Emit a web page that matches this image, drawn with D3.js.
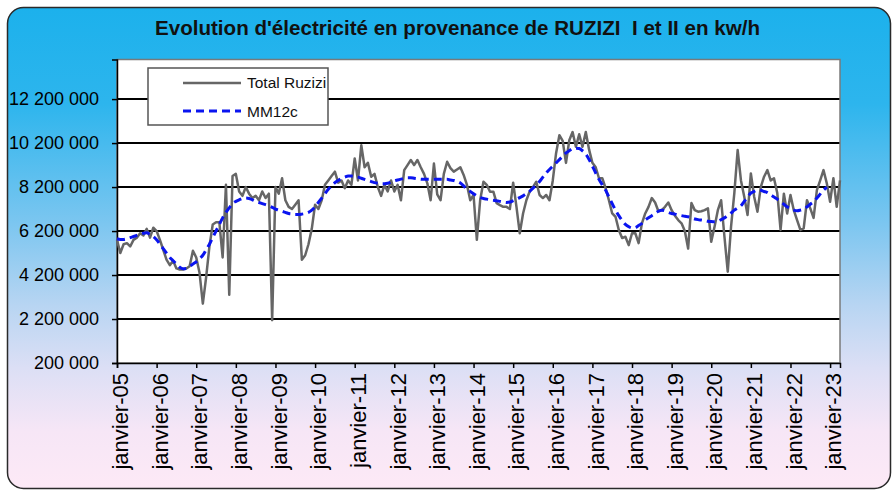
<!DOCTYPE html>
<html><head><meta charset="utf-8">
<script src="https://cdn.jsdelivr.net/npm/d3@7"></script>
<style>html,body{margin:0;padding:0;background:#fff;}svg{display:block;}</style>
</head><body>
<script>
// ---- data (kWh per month, janvier-05 .. avril-23) ----
const startYear = 2005;
const totalRuzizi = [
  5800000,5200000,5600000,5650000,5500000,5800000,5900000,6100000,6000000,6300000,5900000,6350000,
  6200000,5800000,5350000,4900000,4650000,4850000,4500000,4450000,4450000,4500000,4600000,5300000,
  5000000,4300000,2900000,4100000,5500000,6500000,6600000,6600000,5000000,8300000,3300000,8700000,
  8800000,8000000,7800000,8200000,7900000,7700000,7800000,7600000,8000000,7700000,7900000,2150000,
  8200000,7900000,8600000,7600000,7300000,7200000,7400000,7600000,4900000,5100000,5600000,6300000,
  7400000,7200000,7600000,8300000,8500000,8700000,8900000,8400000,8500000,8150000,8500000,8300000,
  9500000,8500000,10100000,9100000,9300000,8670000,8800000,8200000,7800000,8300000,8000000,8500000,
  8000000,8300000,7600000,8970000,9200000,9430000,9200000,9430000,9100000,8800000,8370000,7600000,
  9270000,7870000,7600000,8800000,9350000,9060000,8900000,9000000,9100000,8750000,8300000,7600000,
  7840000,5800000,7600000,8440000,8300000,7990000,7990000,7470000,7380000,7300000,7300000,7200000,
  8400000,7300000,6100000,7000000,7600000,8000000,8200000,8440000,7840000,7700000,7840000,7600000,
  8500000,9740000,10560000,10300000,9300000,10330000,10700000,10030000,10600000,10030000,10700000,9900000,
  9300000,9100000,8600000,8600000,8150000,7600000,7000000,6850000,6250000,5880000,5940000,5560000,
  6100000,6100000,5650000,6550000,7000000,7300000,7700000,7500000,7100000,7150000,7300000,7500000,
  7150000,6900000,6700000,6550000,6200000,5400000,7470000,7150000,7080000,7100000,7150000,7230000,
  5710000,6400000,7150000,7600000,5940000,4350000,6400000,7930000,9880000,8500000,7760000,6930000,
  8820000,7760000,7080000,8200000,8670000,8970000,8500000,8600000,7930000,6250000,7900000,7000000,
  7840000,7150000,6700000,6250000,6320000,7600000,7230000,6800000,8060000,8500000,8970000,8370000,
  7530000,8600000,7300000,8500000
];
const mm12c = [
  5850000,5820000,5820000,5850000,5900000,5950000,6000000,6050000,6100000,6120000,6050000,5950000,
  5800000,5600000,5400000,5200000,5000000,4850000,4700000,4550000,4480000,4500000,4600000,4700000,
  4800000,4950000,5100000,5350000,5600000,5900000,6200000,6500000,6800000,7050000,7250000,7450000,
  7550000,7620000,7680000,7700000,7680000,7620000,7550000,7500000,7450000,7400000,7350000,7280000,
  7200000,7150000,7100000,7050000,7000000,6980000,6950000,6950000,6970000,7000000,7050000,7150000,
  7300000,7500000,7700000,7900000,8100000,8250000,8400000,8500000,8600000,8650000,8700000,8700000,
  8680000,8650000,8600000,8550000,8500000,8450000,8400000,8370000,8350000,8350000,8370000,8420000,
  8480000,8520000,8560000,8600000,8620000,8620000,8600000,8580000,8560000,8550000,8550000,8550000,
  8550000,8550000,8550000,8550000,8550000,8520000,8500000,8450000,8380000,8250000,8100000,8000000,
  7900000,7800000,7720000,7680000,7650000,7620000,7600000,7580000,7550000,7520000,7500000,7520000,
  7580000,7650000,7720000,7800000,7900000,8000000,8150000,8300000,8450000,8650000,8840000,9000000,
  9150000,9300000,9450000,9600000,9750000,9850000,9950000,9970000,9950000,9850000,9700000,9450000,
  9150000,8840000,8550000,8300000,8060000,7750000,7450000,7150000,6900000,6680000,6500000,6400000,
  6340000,6360000,6450000,6550000,6700000,6800000,6900000,7000000,7100000,7150000,7120000,7050000,
  7000000,6970000,6930000,6900000,6870000,6850000,6800000,6750000,6720000,6700000,6680000,6650000,
  6630000,6620000,6650000,6720000,6800000,6900000,7020000,7150000,7250000,7350000,7550000,7750000,
  7930000,8000000,8060000,8050000,8000000,7950000,7850000,7750000,7650000,7530000,7420000,7300000,
  7220000,7150000,7120000,7150000,7200000,7300000,7420000,7530000,7700000,7880000,8060000,8200000
];
const yTicks = [200000,2200000,4200000,6200000,8200000,10200000,12200000];
const xTickLabels = ["janvier-05","janvier-06","janvier-07","janvier-08","janvier-09","janvier-10",
  "janvier-11","janvier-12","janvier-13","janvier-14","janvier-15","janvier-16","janvier-17",
  "janvier-18","janvier-19","janvier-20","janvier-21","janvier-22","janvier-23"];
const seriesNames = ["Total Ruzizi","MM12c"];
const title = "Evolution d'électricité en provenance de RUZIZI  I et II en kw/h";

// ---- chart ----
const W = 892, H = 490;
const plot = {l:117, r:840, t:59.5, b:363};
const svg = d3.select("body").append("svg").attr("width",W).attr("height",H);
const defs = svg.append("defs");
const grad = defs.append("linearGradient").attr("id","bg").attr("x1",0).attr("y1",0).attr("x2",0).attr("y2",1);
[[0,"#1cb1ec"],[0.2,"#2db5ed"],[0.45,"#7cc6f0"],[0.62,"#b8d5f2"],[0.75,"#dcdff5"],[0.88,"#f6e6f6"],[1,"#fde9f6"]]
  .forEach(([o,c])=>grad.append("stop").attr("offset",o).attr("stop-color",c));

svg.append("rect").attr("x",7.5).attr("y",7.5).attr("width",883).attr("height",481).attr("rx",16)
  .attr("fill","url(#bg)").attr("stroke","#2a2a2a").attr("stroke-width",1.5);

svg.append("text").attr("x",155).attr("y",35)
  .attr("font-family","Liberation Sans, Arial, sans-serif").attr("font-weight","bold").attr("font-size",20)
  .attr("textLength",605).attr("lengthAdjust","spacingAndGlyphs")
  .style("white-space","pre")
  .attr("fill","#111").text(title);

const x = d3.scaleLinear().domain([0, totalRuzizi.length-1]).range([plot.l, plot.r]);
const y = d3.scaleLinear().domain([200000, 14000000]).range([plot.b, plot.t]);

svg.append("rect").attr("x",plot.l).attr("y",plot.t).attr("width",plot.r-plot.l).attr("height",plot.b-plot.t)
  .attr("fill","#fff");

// gridlines
svg.append("g").selectAll("line").data(yTicks.slice(1)).join("line")
  .attr("x1",plot.l).attr("x2",plot.r).attr("y1",d=>y(d)).attr("y2",d=>y(d))
  .attr("stroke","#000").attr("stroke-width",2);

// plot border
svg.append("rect").attr("x",plot.l).attr("y",plot.t).attr("width",plot.r-plot.l).attr("height",plot.b-plot.t)
  .attr("fill","none").attr("stroke","#7a7a7a").attr("stroke-width",1.5);

const fr = d3.formatLocale({decimal:",", thousands:"\u00a0", grouping:[3], currency:["",""]});
const fmt = fr.format(",d");

const yAxis = svg.append("g").attr("transform",`translate(${plot.l},0)`)
  .call(d3.axisLeft(y).tickValues(yTicks).tickSize(5).tickPadding(13).tickFormat(fmt));
yAxis.select(".domain").attr("stroke","#000").attr("stroke-width",1.5);
yAxis.selectAll(".tick line").attr("stroke","#000").attr("stroke-width",1.5);
yAxis.selectAll("text").attr("font-family","Liberation Sans, Arial, sans-serif").attr("font-size",18).attr("fill","#000");

const xTickIdx = xTickLabels.map((d,i)=>i*12);
const xAxis = svg.append("g").attr("transform",`translate(0,${plot.b})`)
  .call(d3.axisBottom(x).tickValues(xTickIdx).tickSize(5).tickFormat((d,i)=>xTickLabels[i]));
xAxis.select(".domain").attr("stroke","#000").attr("stroke-width",1.5);
xAxis.selectAll(".tick line").attr("stroke","#000").attr("stroke-width",1.5);
xAxis.selectAll("text")
  .attr("font-family","Liberation Sans, Arial, sans-serif").attr("font-size",22).attr("fill","#000")
  .attr("text-anchor","end").attr("transform","rotate(-90)")
  .attr("x",-10).attr("y",3).attr("dy","0.35em");

// series
const lineGen = d3.line().defined(d=>d!=null).x((d,i)=>x(i)).y(d=>y(d));
svg.append("path").datum(totalRuzizi).attr("d",lineGen).attr("fill","none")
  .attr("stroke","#666").attr("stroke-width",2.5).attr("stroke-linejoin","round");
svg.append("path").datum(mm12c).attr("d",lineGen.curve(d3.curveMonotoneX)).attr("fill","none")
  .attr("stroke","#0a14f0").attr("stroke-width",3).attr("stroke-dasharray","8,5");

// legend
const lg = svg.append("g");
lg.append("rect").attr("x",148).attr("y",68).attr("width",180).attr("height",57)
  .attr("fill","#fff").attr("stroke","#555").attr("stroke-width",1.5);
lg.append("line").attr("x1",183).attr("x2",241).attr("y1",83).attr("y2",83).attr("stroke","#666").attr("stroke-width",2.5);
lg.append("line").attr("x1",183).attr("x2",241).attr("y1",111).attr("y2",111).attr("stroke","#0a14f0")
  .attr("stroke-width",3).attr("stroke-dasharray","8,5");
lg.selectAll("text").data(seriesNames).join("text")
  .attr("x",247).attr("y",(d,i)=>88+i*29)
  .attr("font-family","Liberation Sans, Arial, sans-serif").attr("font-size",15.5).attr("fill","#111")
  .text(d=>d);
</script>
</body></html>
